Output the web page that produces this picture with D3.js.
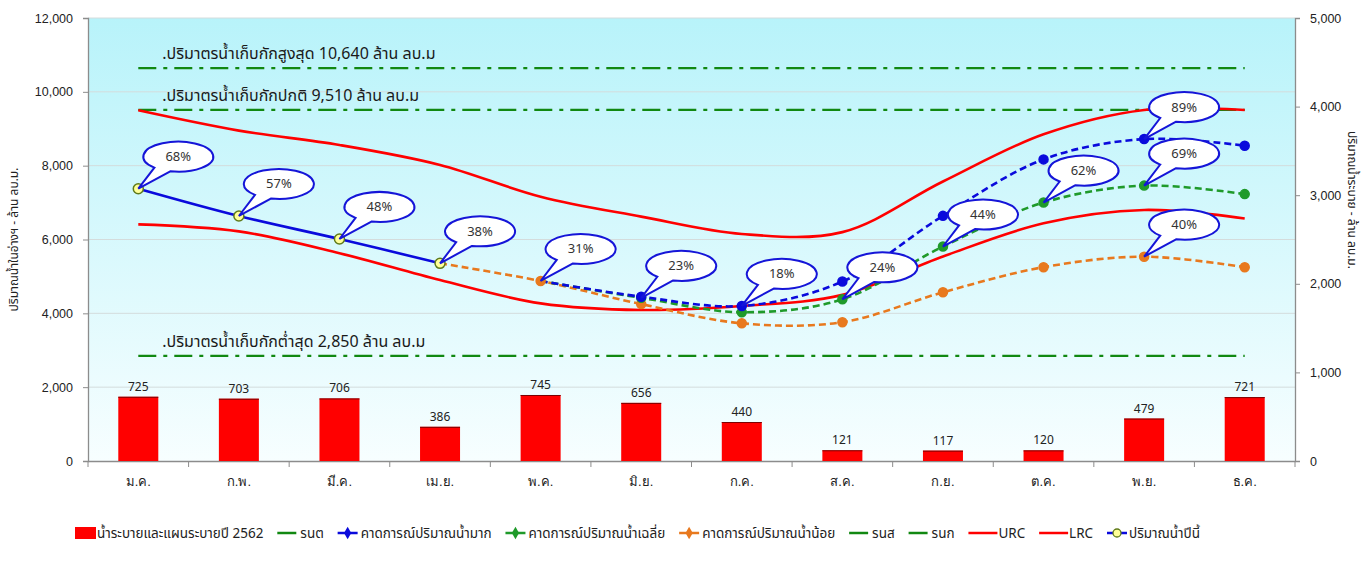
<!DOCTYPE html>
<html><head><meta charset="utf-8">
<script src="https://cdn.jsdelivr.net/npm/d3@7"></script>
<style>
html,body{margin:0;padding:0;background:#fff;}
svg{display:block;font-family:Tahoma,"Noto Sans Thai","Noto Sans","DejaVu Sans",sans-serif;}
</style></head>
<body><svg id="c" width="1365" height="566"></svg>
<script>
// ---------------- data ----------------
const months = ["ม.ค.","ก.พ.","มี.ค.","เม.ย.","พ.ค.","มิ.ย.","ก.ค.","ส.ค.","ก.ย.","ต.ค.","พ.ย.","ธ.ค."];
const release2562 = [725,703,706,386,745,656,440,121,117,120,479,721];
const thisYear   = [7376,6637,6014,5355,null,null,null,null,null,null,null,null];
const forecastHigh = [null,null,null,null,4876,4450,4200,4860,6640,8170,8720,8540];
const forecastAvg  = [null,null,null,null,4876,4420,4030,4380,5810,7000,7460,7230];
const forecastLow  = [null,null,null,5355,4876,4250,3730,3760,4570,5250,5535,5250];
const urc = [9500,8950,8560,8020,7160,6620,6150,6200,7570,8850,9510,9510];
const lrc = [6410,6220,5630,4900,4270,4090,4200,4500,5540,6440,6800,6570];
const refLevels = [10640, 9510, 2850];
const refLabels = [".ปริมาตรน้ำเก็บกักสูงสุด 10,640 ล้าน ลบ.ม", ".ปริมาตรน้ำเก็บกักปกติ 9,510 ล้าน ลบ.ม", ".ปริมาตรน้ำเก็บกักต่ำสุด 2,850 ล้าน ลบ.ม"];
const calloutText   = ["68%","57%","48%","38%","31%","23%","18%","24%","44%","62%","89%","69%","40%"];
const calloutMonth  = [0,1,2,3,4,5,6,7,8,9,10,10,10];
const calloutSeries = ["thisYear","thisYear","thisYear","thisYear","low","avg","high","avg","avg","avg","high","avg","low"];
const leftTicks  = [0,2000,4000,6000,8000,10000,12000];
const rightTicks = [0,1000,2000,3000,4000,5000];
const leftTitle  = "ปริมาณน้ำในอ่างฯ - ล้าน ลบ.ม.";
const rightTitle = "ปริมาณน้ำระบาย - ล้าน ลบ.ม.";
const legendLabels = ["น้ำระบายและแผนระบายปี 2562","รนต","คาดการณ์ปริมาณน้ำมาก","คาดการณ์ปริมาณน้ำเฉลี่ย","คาดการณ์ปริมาณน้ำน้อย","รนส","รนก","URC","LRC","ปริมาณน้ำปีนี้"];

// ---------------- layout ----------------
const svg = d3.select("#c");
const L = 88, R = 1295, T = 18, B = 461;
const x = d3.scaleBand().domain(months).range([L, R]).padding(0);
const cx = m => x(m) + x.bandwidth() / 2;
const yL = d3.scaleLinear().domain([0, 12000]).range([B, T]);
const yR = d3.scaleLinear().domain([0, 5000]).range([B, T]);
const BLUE = "#0a0adc", GREEN = "#1f9a2a", ORANGE = "#e8791e", RED = "#ff0000", REFG = "#118811";

// background gradient
const defs = svg.append("defs");
const g = defs.append("linearGradient").attr("id","bg").attr("x1",0).attr("y1",0).attr("x2",0).attr("y2",1);
g.append("stop").attr("offset","0%").attr("stop-color","#b8f3fa");
g.append("stop").attr("offset","100%").attr("stop-color","#f7feff");
svg.append("rect").attr("x",L).attr("y",T).attr("width",R-L).attr("height",B-T).attr("fill","url(#bg)");

// gridlines
svg.append("g").selectAll("line").data(leftTicks.filter(d=>d>0)).join("line")
  .attr("x1",L).attr("x2",R).attr("y1",d=>yL(d)).attr("y2",d=>yL(d))
  .attr("stroke","#d4dcdc").attr("stroke-width",1);

// axes
const axL = svg.append("g").attr("transform",`translate(${L},0)`)
  .call(d3.axisLeft(yL).tickValues(leftTicks).tickFormat(d3.format(",")).tickSize(5).tickPadding(10));
const axR = svg.append("g").attr("transform",`translate(${R},0)`)
  .call(d3.axisRight(yR).tickValues(rightTicks).tickFormat(d3.format(",")).tickSize(5).tickPadding(10));
const axX = svg.append("g").attr("transform",`translate(0,${B})`)
  .call(d3.axisBottom(x).tickSize(0).tickPadding(16));
[axL,axR,axX].forEach(a=>{
  a.select(".domain").attr("stroke","#8c8c8c").attr("stroke-width",1.3);
  a.selectAll(".tick line").attr("stroke","#8c8c8c");
  a.selectAll("text").attr("fill","#222").attr("font-size",12.5);
});
axX.selectAll("text").attr("font-size",13);
// x ticks at band boundaries
svg.append("g").selectAll("line").data(d3.range(months.length+1)).join("line")
  .attr("x1",i=>L+i*x.bandwidth()).attr("x2",i=>L+i*x.bandwidth())
  .attr("y1",B).attr("y2",B+6).attr("stroke","#8c8c8c");

// axis titles
svg.append("text").attr("transform",`translate(18,${(T+B)/2}) rotate(-90)`)
  .attr("text-anchor","middle").attr("font-size",12).attr("fill","#222").text(leftTitle);
svg.append("text").attr("transform",`translate(1348,200) rotate(90)`)
  .attr("text-anchor","middle").attr("font-size",12).attr("fill","#222").text(rightTitle);

// bars
const bw = 40;
const bars = svg.append("g");
bars.selectAll("rect").data(release2562).join("rect")
  .attr("x",(d,i)=>cx(months[i])-bw/2).attr("width",bw)
  .attr("y",d=>yR(d)).attr("height",d=>B-yR(d)).attr("fill",RED);
bars.selectAll("line").data(release2562).join("line")
  .attr("x1",(d,i)=>cx(months[i])-bw/2).attr("x2",(d,i)=>cx(months[i])+bw/2)
  .attr("y1",d=>yR(d)+0.5).attr("y2",d=>yR(d)+0.5).attr("stroke","#7a0000").attr("stroke-width",1);
bars.selectAll("text").data(release2562).join("text")
  .attr("x",(d,i)=>cx(months[i])).attr("y",d=>yR(d)-6)
  .attr("text-anchor","middle").attr("font-size",12).attr("fill","#222").text(d=>d);

// reference lines
const refG = svg.append("g");
refG.selectAll("line").data(refLevels).join("line")
  .attr("x1",cx(months[0])).attr("x2",cx(months[11]))
  .attr("y1",d=>yL(d)).attr("y2",d=>yL(d))
  .attr("stroke",REFG).attr("stroke-width",2.2).attr("stroke-dasharray","18,7,4,7");
refG.selectAll("text").data(refLabels).join("text")
  .attr("x",(d,i)=>cx(months[0])+24).attr("y",(d,i)=>yL(refLevels[i])-9)
  .attr("font-size",16).attr("fill","#1a1a1a").text(d=>d);

// curves
const curve = d3.curveCatmullRom.alpha(0.5);
const line = (scale) => d3.line().defined(d=>d.v!=null).x(d=>cx(d.m)).y(d=>scale(d.v)).curve(curve);
const pts = arr => arr.map((v,i)=>({m:months[i],v}));
const lg = svg.append("g").attr("fill","none");
lg.append("path").attr("d",line(yL)(pts(urc))).attr("stroke",RED).attr("stroke-width",2.6);
lg.append("path").attr("d",line(yL)(pts(lrc))).attr("stroke",RED).attr("stroke-width",2.6);
lg.append("path").attr("d",line(yL)(pts(forecastLow))).attr("stroke",ORANGE).attr("stroke-width",2.6).attr("stroke-dasharray","7,4");
lg.append("path").attr("d",line(yL)(pts(forecastAvg))).attr("stroke",GREEN).attr("stroke-width",2.6).attr("stroke-dasharray","7,4");
lg.append("path").attr("d",line(yL)(pts(forecastHigh))).attr("stroke",BLUE).attr("stroke-width",2.6).attr("stroke-dasharray","7,4");
lg.append("path").attr("d",line(yL)(pts(thisYear))).attr("stroke",BLUE).attr("stroke-width",2.6);

// markers
const mk = (arr, fill, stroke, r) => svg.append("g").selectAll("circle")
  .data(pts(arr).filter(d=>d.v!=null)).join("circle")
  .attr("cx",d=>cx(d.m)).attr("cy",d=>yL(d.v)).attr("r",r)
  .attr("fill",fill).attr("stroke",stroke).attr("stroke-width",1.5);
mk(forecastLow.map((v,i)=>i>=4?v:null), ORANGE, ORANGE, 4.5);
mk(forecastAvg.map((v,i)=>i>=5?v:null), GREEN, GREEN, 4.5);
mk(forecastHigh.map((v,i)=>i>=5?v:null), BLUE, BLUE, 4.5);
mk(thisYear, "#ffff99", "#5f7a1a", 5);

// callouts
const seriesMap = {thisYear, high:forecastHigh, avg:forecastAvg, low:forecastLow};
const cg = svg.append("g");
const RX = 35, RY = 15, OX = 40, OY = -32;
calloutText.forEach((t,k)=>{
  const m = months[calloutMonth[k]];
  const px = cx(m), py = yL(seriesMap[calloutSeries[k]][calloutMonth[k]]);
  const ccx = px + OX, ccy = py + OY;
  const th = Math.atan2((py-ccy)/RY, (px-ccx)/RX);
  const a1 = th - 0.26, a2 = th + 0.26;
  const P = a => [ccx + RX*Math.cos(a), ccy + RY*Math.sin(a)];
  const p1 = P(a1), p2 = P(a2);
  const d = `M${p1[0]},${p1[1]} L${px},${py} L${p2[0]},${p2[1]} A${RX},${RY} 0 1 1 ${p1[0]},${p1[1]} Z`;
  cg.append("path").attr("d",d).attr("fill","#fff").attr("stroke","#1515d8").attr("stroke-width",2);
  cg.append("text").attr("x",ccx).attr("y",ccy+4.5).attr("text-anchor","middle")
    .attr("font-size",13).attr("fill","#333").text(t);
});

// legend (sequential layout, spread across the reference span)
const leg = svg.append("g").attr("font-size",13.5).attr("fill","#222");
const ly = 533, legStart = 75, legEnd = 1200;
const items = [
  {type:"rect", c:RED, w:21, pad:1},
  {type:"line", c:REFG, w:19, pad:4},
  {type:"mk", c:BLUE, w:20, pad:3},
  {type:"mk", c:GREEN, w:20, pad:3},
  {type:"mk", c:ORANGE, w:20, pad:3},
  {type:"line", c:REFG, w:19, pad:4},
  {type:"line", c:REFG, w:19, pad:4},
  {type:"line", c:RED, w:29, pad:1},
  {type:"line", c:RED, w:29, pad:1},
  {type:"yr", c:BLUE, w:20, pad:2}
];
const texts = items.map((it,i)=>leg.append("text").attr("y",ly+4.5).text(legendLabels[i]));
const tw = texts.map(t=>t.node().getComputedTextLength());
const total = d3.sum(items,(it,i)=>it.w+it.pad+tw[i]);
const gap = (legEnd - legStart - total) / (items.length - 1);
let cur = legStart;
items.forEach((it,i)=>{
  if (it.type==="rect") leg.append("rect").attr("x",cur).attr("y",ly-6).attr("width",it.w).attr("height",12).attr("fill",it.c);
  else {
    leg.append("line").attr("x1",cur).attr("x2",cur+it.w).attr("y1",ly).attr("y2",ly).attr("stroke",it.c).attr("stroke-width",2.5);
    if (it.type==="mk") leg.append("path").attr("d",d3.symbol(d3.symbolDiamond,45)()).attr("transform",`translate(${cur+it.w/2},${ly})`).attr("fill",it.c);
    if (it.type==="yr") leg.append("circle").attr("cx",cur+it.w/2).attr("cy",ly).attr("r",4).attr("fill","#ffff99").attr("stroke","#5f7a1a").attr("stroke-width",1.3);
  }
  texts[i].attr("x",cur+it.w+it.pad);
  cur += it.w + it.pad + tw[i] + gap;
});
</script></body></html>
